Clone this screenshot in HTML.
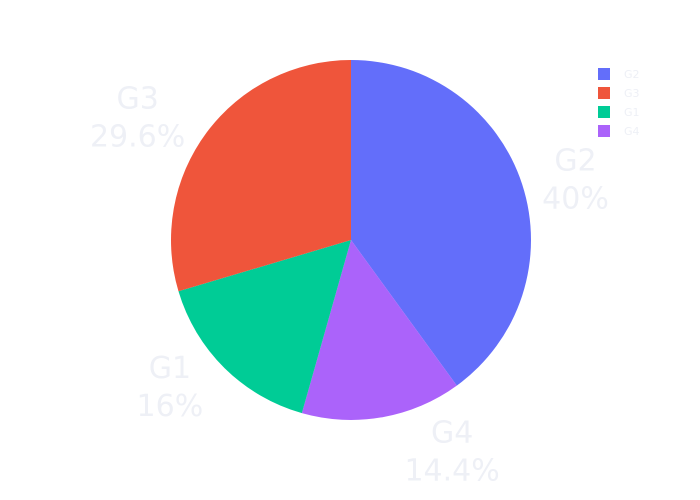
<!DOCTYPE html>
<html><head><meta charset="utf-8"><style>
body{margin:0;background:#fff}
svg{display:block;font-family:"DejaVu Sans","Liberation Sans",sans-serif}
</style></head><body>
<svg id="chart" width="700" height="500"></svg>
<script>
const labels = ["G2","G4","G1","G3"];
const values = [40,14.4,16,29.6];
const pctText = ["40%","14.4%","16%","29.6%"];
const colors = ["#636efa","#ab63fa","#00cc96","#ef553b"];
const legendOrder = ["G2","G3","G1","G4"];
// layout nudges for outside labels (pixels, not data)
const nudgeX = [1,60,-16,-25];
const nudgeY = [12,-20,-20,18];
const NS="http://www.w3.org/2000/svg";
const svg=document.getElementById('chart');
const cx=351,cy=240,R=180;
const total=values.reduce((a,b)=>a+b,0);
function pt(a,r){return [cx+r*Math.sin(a),cy-r*Math.cos(a)];}
let start=0;
labels.forEach((l,i)=>{
  const sweep=values[i]/total*2*Math.PI, end=start+sweep;
  const [x1,y1]=pt(start,R),[x2,y2]=pt(end,R);
  const p=document.createElementNS(NS,'path');
  p.setAttribute('d',`M${cx},${cy}L${x1},${y1}A${R},${R} 0 ${sweep>Math.PI?1:0} 1 ${x2},${y2}Z`);
  p.setAttribute('fill',colors[i]);
  
  
  svg.appendChild(p);
  const mid=(start+end)/2;
  let [lx,ly]=pt(mid,235);
  lx+=nudgeX[i]; ly+=nudgeY[i];
  const t=document.createElementNS(NS,'text');
  t.setAttribute('x',lx);t.setAttribute('y',ly-9);t.setAttribute('text-anchor','middle');
  t.setAttribute('font-size','30');t.setAttribute('fill','#eef0f6');
  
  
  const s1=document.createElementNS(NS,'tspan');s1.setAttribute('x',lx);s1.textContent=l;
  const s2=document.createElementNS(NS,'tspan');s2.setAttribute('x',lx);s2.setAttribute('dy','38');s2.textContent=pctText[i];
  t.appendChild(s1);t.appendChild(s2);svg.appendChild(t);
  start=end;
});
legendOrder.forEach((l,j)=>{
  const i=labels.indexOf(l);
  const g=document.createElementNS(NS,'g');
  
  
  const y=74+j*19;
  const r=document.createElementNS(NS,'rect');
  r.setAttribute('x',598);r.setAttribute('y',y-6);r.setAttribute('width',12);r.setAttribute('height',12);r.setAttribute('fill',colors[i]);
  const t=document.createElementNS(NS,'text');
  t.setAttribute('x',624);t.setAttribute('y',y+4);t.setAttribute('font-size','11');t.setAttribute('fill','#eef0f6');t.textContent=l;
  g.appendChild(r);g.appendChild(t);svg.appendChild(g);
});
</script>
</body></html>
